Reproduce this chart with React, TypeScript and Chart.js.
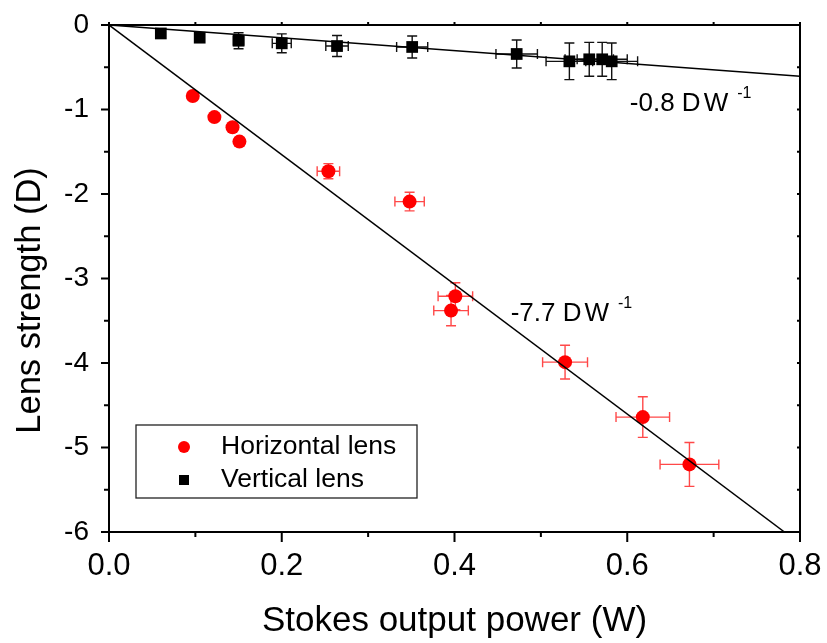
import { useEffect, useRef } from 'react';
import { Chart, registerables } from 'chart.js';

Chart.register(...registerables);

// ---- Data ----
const horizontalLabel = 'Horizontal lens';
const verticalLabel = 'Vertical lens';

const hPower = [0.097, 0.122, 0.143, 0.151, 0.254, 0.348, 0.401, 0.396, 0.528, 0.618, 0.672];
const hStrength = [-0.84, -1.09, -1.21, -1.38, -1.73, -2.09, -3.21, -3.38, -3.99, -4.64, -5.2];
const hPowerErr = [0.003, 0.003, 0.004, 0.004, 0.013, 0.017, 0.02, 0.02, 0.026, 0.031, 0.034];
const hStrengthErr = [0.02, 0.03, 0.04, 0.05, 0.09, 0.11, 0.16, 0.18, 0.2, 0.24, 0.26];

const vPower = [0.06, 0.105, 0.15, 0.2, 0.264, 0.351, 0.472, 0.533, 0.556, 0.571, 0.582];
const vStrength = [-0.1, -0.15, -0.186, -0.217, -0.249, -0.26, -0.343, -0.43, -0.406, -0.406, -0.43];
const vPowerErr = [0.003, 0.005, 0.006, 0.011, 0.013, 0.018, 0.024, 0.027, 0.028, 0.029, 0.03];
const vStrengthErr = [0.03, 0.05, 0.095, 0.112, 0.124, 0.13, 0.166, 0.217, 0.2, 0.2, 0.217];

// fitted lines (end points)
const fitHX = [0, 0.782];
const fitHY = [0, -6];
const fitVX = [0, 0.8];
const fitVY = [0, -0.608];

const fitHLabel = ['-7.7 D', 'W', '-1'];
const fitVLabel = ['-0.8 D', 'W', '-1'];
const fitHLabelPos = [0.465, -3.42];
const fitVLabelPos = [0.603, -0.935];

const xTicks = [0, 0.1, 0.2, 0.3, 0.4, 0.5, 0.6, 0.7, 0.8];
const yTicks = [0, -0.5, -1, -1.5, -2, -2.5, -3, -3.5, -4, -4.5, -5, -5.5, -6];

const xTitle = 'Stokes output power (W)';
const yTitle = 'Lens strength (D)';
// value on the y axis at which the y title is centred (it sits below the middle)
const yTitleCenter = -3.26;

const FONT = "'Liberation Sans', Arial, Helvetica, sans-serif";

const RED = '#ff0000';
const RED_ERR = 'rgba(255,40,40,0.85)';
const BLACK = '#000000';

export default function App() {
  const ref = useRef<HTMLCanvasElement>(null);

  useEffect(() => {
    const canvas = ref.current;
    if (!canvas) return;

    const errorBars = {
      id: 'errorBars',
      beforeDatasetsDraw(chart: any) {
        const { ctx, scales } = chart;
        const xs = scales.x;
        const ys = scales.y;
        const sets = [
          { px: hPower, py: hStrength, ex: hPowerErr, ey: hStrengthErr, color: RED_ERR },
          { px: vPower, py: vStrength, ex: vPowerErr, ey: vStrengthErr, color: '#111' },
        ];
        const cap = 5;
        ctx.save();
        ctx.lineWidth = 1.4;
        for (const s of sets) {
          ctx.strokeStyle = s.color;
          for (let i = 0; i < s.px.length; i++) {
            const cx = xs.getPixelForValue(s.px[i]);
            const cy = ys.getPixelForValue(s.py[i]);
            const x0 = xs.getPixelForValue(s.px[i] - s.ex[i]);
            const x1 = xs.getPixelForValue(s.px[i] + s.ex[i]);
            const y0 = ys.getPixelForValue(s.py[i] + s.ey[i]);
            const y1 = ys.getPixelForValue(s.py[i] - s.ey[i]);
            ctx.beginPath();
            ctx.moveTo(x0, cy); ctx.lineTo(x1, cy);
            ctx.moveTo(x0, cy - cap); ctx.lineTo(x0, cy + cap);
            ctx.moveTo(x1, cy - cap); ctx.lineTo(x1, cy + cap);
            ctx.moveTo(cx, y0); ctx.lineTo(cx, y1);
            ctx.moveTo(cx - cap, y0); ctx.lineTo(cx + cap, y0);
            ctx.moveTo(cx - cap, y1); ctx.lineTo(cx + cap, y1);
            ctx.stroke();
          }
        }
        ctx.restore();
      },
    };

    const frame = {
      id: 'frame',
      afterDraw(chart: any) {
        const { ctx, chartArea, scales } = chart;
        const { left, right, top, bottom } = chartArea;
        const xs = scales.x;
        const ys = scales.y;
        ctx.save();
        ctx.strokeStyle = BLACK;
        ctx.lineWidth = 2;
        ctx.strokeRect(left, top, right - left, bottom - top);
        ctx.beginPath();
        xTicks.forEach((v, i) => {
          const px = xs.getPixelForValue(v);
          const major = i % 2 === 0;
          ctx.moveTo(px, bottom);
          ctx.lineTo(px, bottom + (major ? 10 : 5));
          ctx.moveTo(px, top);
          ctx.lineTo(px, top - 3);
        });
        yTicks.forEach((v, i) => {
          const py = ys.getPixelForValue(v);
          const major = i % 2 === 0;
          ctx.moveTo(left, py);
          ctx.lineTo(left - (major ? 8 : 5), py);
          ctx.moveTo(right, py);
          ctx.lineTo(right - 3, py);
        });
        ctx.stroke();

        // y axis title
        ctx.save();
        ctx.fillStyle = BLACK;
        ctx.font = `34.5px ${FONT}`;
        ctx.textAlign = 'center';
        ctx.textBaseline = 'alphabetic';
        ctx.translate(ys.left + 40, ys.getPixelForValue(yTitleCenter));
        ctx.rotate(-Math.PI / 2);
        ctx.fillText(yTitle, 0, 0);
        ctx.restore();

        // annotations
        ctx.fillStyle = BLACK;
        ctx.textBaseline = 'middle';
        ctx.textAlign = 'left';
        const drawLabel = (parts: string[], pos: number[]) => {
          let x = xs.getPixelForValue(pos[0]);
          const y = ys.getPixelForValue(pos[1]);
          ctx.font = `26px ${FONT}`;
          ctx.fillText(parts[0], x, y);
          x += ctx.measureText(parts[0]).width + 3;
          ctx.fillText(parts[1], x, y);
          x += ctx.measureText(parts[1]).width + 9;
          ctx.font = `16px ${FONT}`;
          ctx.fillText(parts[2], x, y - 10);
        };
        drawLabel(fitVLabel, fitVLabelPos);
        drawLabel(fitHLabel, fitHLabelPos);

        // legend
        const lx = left + 27;
        const ly = top + 400;
        const lw = 281;
        const lh = 73;
        ctx.lineWidth = 1.3;
        ctx.strokeStyle = '#222';
        ctx.strokeRect(lx, ly, lw, lh);
        ctx.fillStyle = RED;
        ctx.beginPath();
        ctx.arc(lx + 48, ly + 22, 6, 0, Math.PI * 2);
        ctx.fill();
        ctx.fillStyle = BLACK;
        ctx.fillRect(lx + 43, ly + 50, 10, 10);
        ctx.font = `26.5px ${FONT}`;
        ctx.fillText(horizontalLabel, lx + 85, ly + 22);
        ctx.fillText(verticalLabel, lx + 85, ly + 55);
        ctx.restore();
      },
    };

    const chart = new Chart(canvas, {
      type: 'scatter',
      data: {
        datasets: [
          {
            label: 'fitH',
            data: fitHX.map((x, i) => ({ x, y: fitHY[i] })),
            showLine: true,
            borderColor: BLACK,
            borderWidth: 1.5,
            pointRadius: 0,
            order: 0,
          },
          {
            label: 'fitV',
            data: fitVX.map((x, i) => ({ x, y: fitVY[i] })),
            showLine: true,
            borderColor: BLACK,
            borderWidth: 1.5,
            pointRadius: 0,
            order: 0,
          },
          {
            label: horizontalLabel,
            data: hPower.map((x, i) => ({ x, y: hStrength[i] })),
            pointStyle: 'circle',
            pointRadius: 7,
            backgroundColor: RED,
            borderColor: RED,
            borderWidth: 0,
            order: 1,
          },
          {
            label: verticalLabel,
            data: vPower.map((x, i) => ({ x, y: vStrength[i] })),
            pointStyle: 'rect',
            pointRadius: 8.3,
            backgroundColor: BLACK,
            borderColor: BLACK,
            borderWidth: 0,
            order: 1,
          },
        ],
      },
      options: {
        responsive: false,
        animation: false,
        events: [],
        layout: { padding: { left: 0, top: 25, right: 27, bottom: 0 } },
        plugins: { legend: { display: false }, tooltip: { enabled: false } },
        scales: {
          x: {
            type: 'linear',
            position: 'bottom',
            min: 0,
            max: 0.8,
            afterFit: (s: any) => {
              s.height = 111;
              s.paddingLeft = 0;
              s.paddingRight = 0;
            },
            grid: { display: false, drawTicks: false },
            border: { display: false },
            ticks: {
              stepSize: 0.2,
              color: BLACK,
              padding: 16,
              maxRotation: 0,
              autoSkip: false,
              font: { size: 31, family: FONT },
              callback: (v: any) => Number(v).toFixed(1),
            },
            title: {
              display: true,
              text: xTitle,
              color: BLACK,
              font: { size: 35, family: FONT },
              padding: { top: 0, bottom: 1 },
            },
          },
          y: {
            type: 'linear',
            min: -6,
            max: 0,
            afterFit: (s: any) => {
              s.width = 109;
              s.paddingTop = 0;
              s.paddingBottom = 0;
            },
            grid: { display: false, drawTicks: false },
            border: { display: false },
            ticks: {
              stepSize: 1,
              color: BLACK,
              padding: 20,
              font: { size: 28, family: FONT },
            },
            title: { display: false },
          },
        },
      },
      plugins: [errorBars, frame],
    } as any);

    return () => chart.destroy();
  }, []);

  return (
    <div style={{ position: 'fixed', left: 0, top: 0, width: 827, height: 643, background: '#fff' }}>
      <canvas ref={ref} width={827} height={643} style={{ display: 'block', width: 827, height: 643 }} />
    </div>
  );
}
